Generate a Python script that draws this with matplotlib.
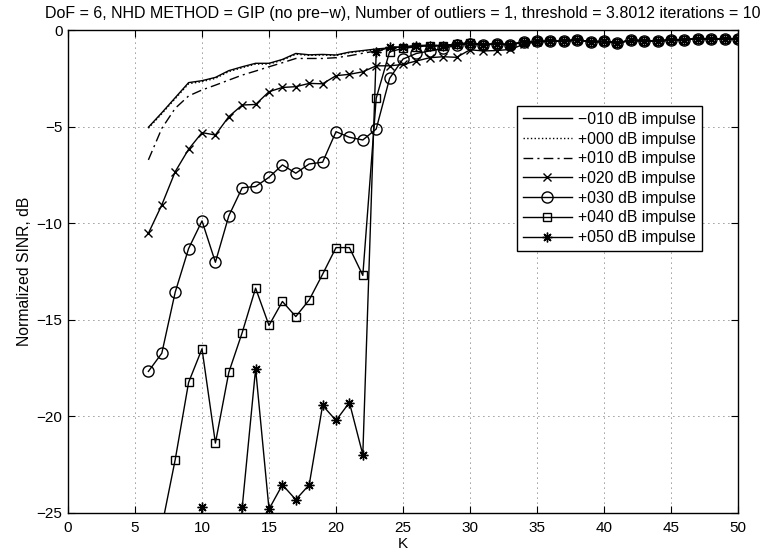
import numpy as np
import matplotlib
matplotlib.use("Agg")
import matplotlib.pyplot as plt

plt.rcParams['font.family'] = ['Liberation Sans', 'DejaVu Sans']

# K axis (number of training samples)
K = list(range(6, 51))

# -010 dB impulse
sinr_m10 = [-5.03, -4.28, -3.50, -2.72, -2.62, -2.45, -2.10, -1.90, -1.72, -1.72,
            -1.52, -1.21, -1.28, -1.26, -1.29, -1.14, -1.06, -0.98, -0.92, -0.86,
            -0.80, -0.78, -0.80, -0.72, -0.68, -0.75, -0.72, -0.74, -0.62, -0.59,
            -0.58, -0.58, -0.50, -0.60, -0.59, -0.66, -0.53, -0.55, -0.58, -0.50,
            -0.50, -0.45, -0.48, -0.46, -0.46]
# +000 dB impulse
sinr_p00 = [-5.08, -4.33, -3.55, -2.78, -2.67, -2.50, -2.15, -1.95, -1.76, -1.76,
            -1.56, -1.25, -1.31, -1.29, -1.32, -1.17, -1.09, -1.01, -0.94, -0.88,
            -0.82, -0.79, -0.81, -0.73, -0.69, -0.76, -0.72, -0.75, -0.62, -0.59,
            -0.58, -0.58, -0.50, -0.60, -0.59, -0.66, -0.53, -0.55, -0.58, -0.50,
            -0.50, -0.45, -0.48, -0.46, -0.46]
# +010 dB impulse
sinr_p10 = [-6.72, -5.09, -4.05, -3.41, -3.10, -2.85, -2.59, -2.33, -2.12, -1.90,
            -1.69, -1.47, -1.47, -1.47, -1.43, -1.33, -1.20, -1.08, -0.98, -0.90,
            -0.84, -0.80, -0.82, -0.73, -0.69, -0.76, -0.72, -0.75, -0.62, -0.59,
            -0.58, -0.58, -0.50, -0.60, -0.59, -0.66, -0.53, -0.55, -0.58, -0.50,
            -0.50, -0.45, -0.48, -0.46, -0.46]
# +020 dB impulse
sinr_p20 = [-10.52, -9.05, -7.33, -6.17, -5.31, -5.43, -4.48, -3.88, -3.85, -3.19,
            -2.97, -2.93, -2.76, -2.78, -2.36, -2.29, -2.16, -1.85, -1.85, -1.78,
            -1.60, -1.43, -1.38, -1.41, -1.02, -1.08, -1.06, -1.00, -0.74, -0.60,
            -0.58, -0.58, -0.50, -0.60, -0.59, -0.66, -0.53, -0.55, -0.58, -0.50,
            -0.50, -0.45, -0.48, -0.46, -0.46]
# +030 dB impulse
sinr_p30 = [-17.67, -16.73, -13.57, -11.31, -9.88, -12.02, -9.62, -8.16, -8.10, -7.62,
            -6.98, -7.41, -6.93, -6.84, -5.26, -5.55, -5.69, -5.12, -2.50, -1.50,
            -1.21, -1.08, -0.95, -0.78, -0.70, -0.76, -0.72, -0.76, -0.63, -0.59,
            -0.58, -0.58, -0.50, -0.60, -0.59, -0.66, -0.53, -0.55, -0.58, -0.50,
            -0.50, -0.45, -0.48, -0.46, -0.46]
# +040 dB impulse
sinr_p40 = [-28.00, -25.70, -22.24, -18.24, -16.50, -21.38, -17.72, -15.66, -13.36, -15.29,
            -14.05, -14.83, -13.97, -12.64, -11.26, -11.26, -12.70, -3.53, -1.12, -0.95,
            -0.86, -0.80, -0.82, -0.72, -0.67, -0.76, -0.72, -0.76, -0.62, -0.59,
            -0.58, -0.58, -0.50, -0.60, -0.59, -0.66, -0.53, -0.55, -0.58, -0.50,
            -0.50, -0.45, -0.48, -0.46, -0.46]
# +050 dB impulse
sinr_p50 = [-40.00, -38.00, -39.00, -36.00, -24.71, -40.00, -37.00, -24.71, -17.54, -24.80,
            -23.54, -24.31, -23.54, -19.43, -20.21, -19.28, -21.98, -1.15, -0.86, -0.90,
            -0.84, -0.80, -0.82, -0.72, -0.67, -0.76, -0.72, -0.76, -0.62, -0.59,
            -0.58, -0.58, -0.50, -0.60, -0.59, -0.66, -0.53, -0.55, -0.58, -0.50,
            -0.50, -0.45, -0.48, -0.46, -0.46]

labels = ['\u2212010 dB impulse', '+000 dB impulse', '+010 dB impulse',
          '+020 dB impulse', '+030 dB impulse', '+040 dB impulse', '+050 dB impulse']

TITLE = ('DoF = 6, NHD METHOD = GIP (no pre\u2212w), Number of outliers = 1, '
         'threshold = 3.8012 iterations = 10')

fig = plt.figure(figsize=(7.64, 5.57), dpi=100)
ax = fig.add_axes([0.089, 0.079, 0.877, 0.867])

lw = 1.0
ax.plot(K, sinr_m10, '-', color='k', lw=lw, label=labels[0])
ax.plot(K, sinr_p00, ':', color='k', lw=lw, label=labels[1])
ax.plot(K, sinr_p10, '-.', color='k', lw=lw, dashes=(7, 3, 1.5, 3), label=labels[2])
ax.plot(K, sinr_p20, '-x', color='k', lw=lw, ms=6, mew=1.0, label=labels[3])
ax.plot(K, sinr_p30, '-o', color='k', lw=lw, ms=8, mfc='none', mew=1.0, label=labels[4])
ax.plot(K, sinr_p40, '-s', color='k', lw=lw, ms=6, mfc='none', mew=1.0, label=labels[5])
ax.plot(K, sinr_p50, '-', marker=(8, 2, 0), color='k', lw=lw, ms=7, mew=1.0, label=labels[6])

ax.set_xlim(0, 50)
ax.set_ylim(-25, 0)
ax.set_xticks(np.arange(0, 51, 5))
ax.set_yticks(np.arange(-25, 1, 5))
ax.set_yticklabels(['\u221225', '\u221220', '\u221215', '\u221210', '\u22125', '0'])
ax.tick_params(direction='in', top=True, right=True, length=5, width=0.8,
               labelsize=11, colors='k', pad=4)
ax.tick_params(axis='x', pad=6)
ax.grid(True, linestyle=(0, (1, 5)), color='k', linewidth=0.6, alpha=0.8)
for sp in ax.spines.values():
    sp.set_linewidth(1.0)

ax.set_xlabel('K', fontsize=11, labelpad=1)
ax.set_ylabel('Normalized SINR, dB', fontsize=11.3, labelpad=3)
ax.set_title(TITLE, fontsize=11.5, pad=9)

leg = ax.legend(loc='upper right', bbox_to_anchor=(0.958, 0.86), fontsize=11.3,
                fancybox=False, framealpha=1, edgecolor='k', handlelength=3.1,
                borderpad=0.4, labelspacing=0.3, handletextpad=0.4)
leg.get_frame().set_linewidth(1.0)

fig.savefig('out.png', dpi=100)
